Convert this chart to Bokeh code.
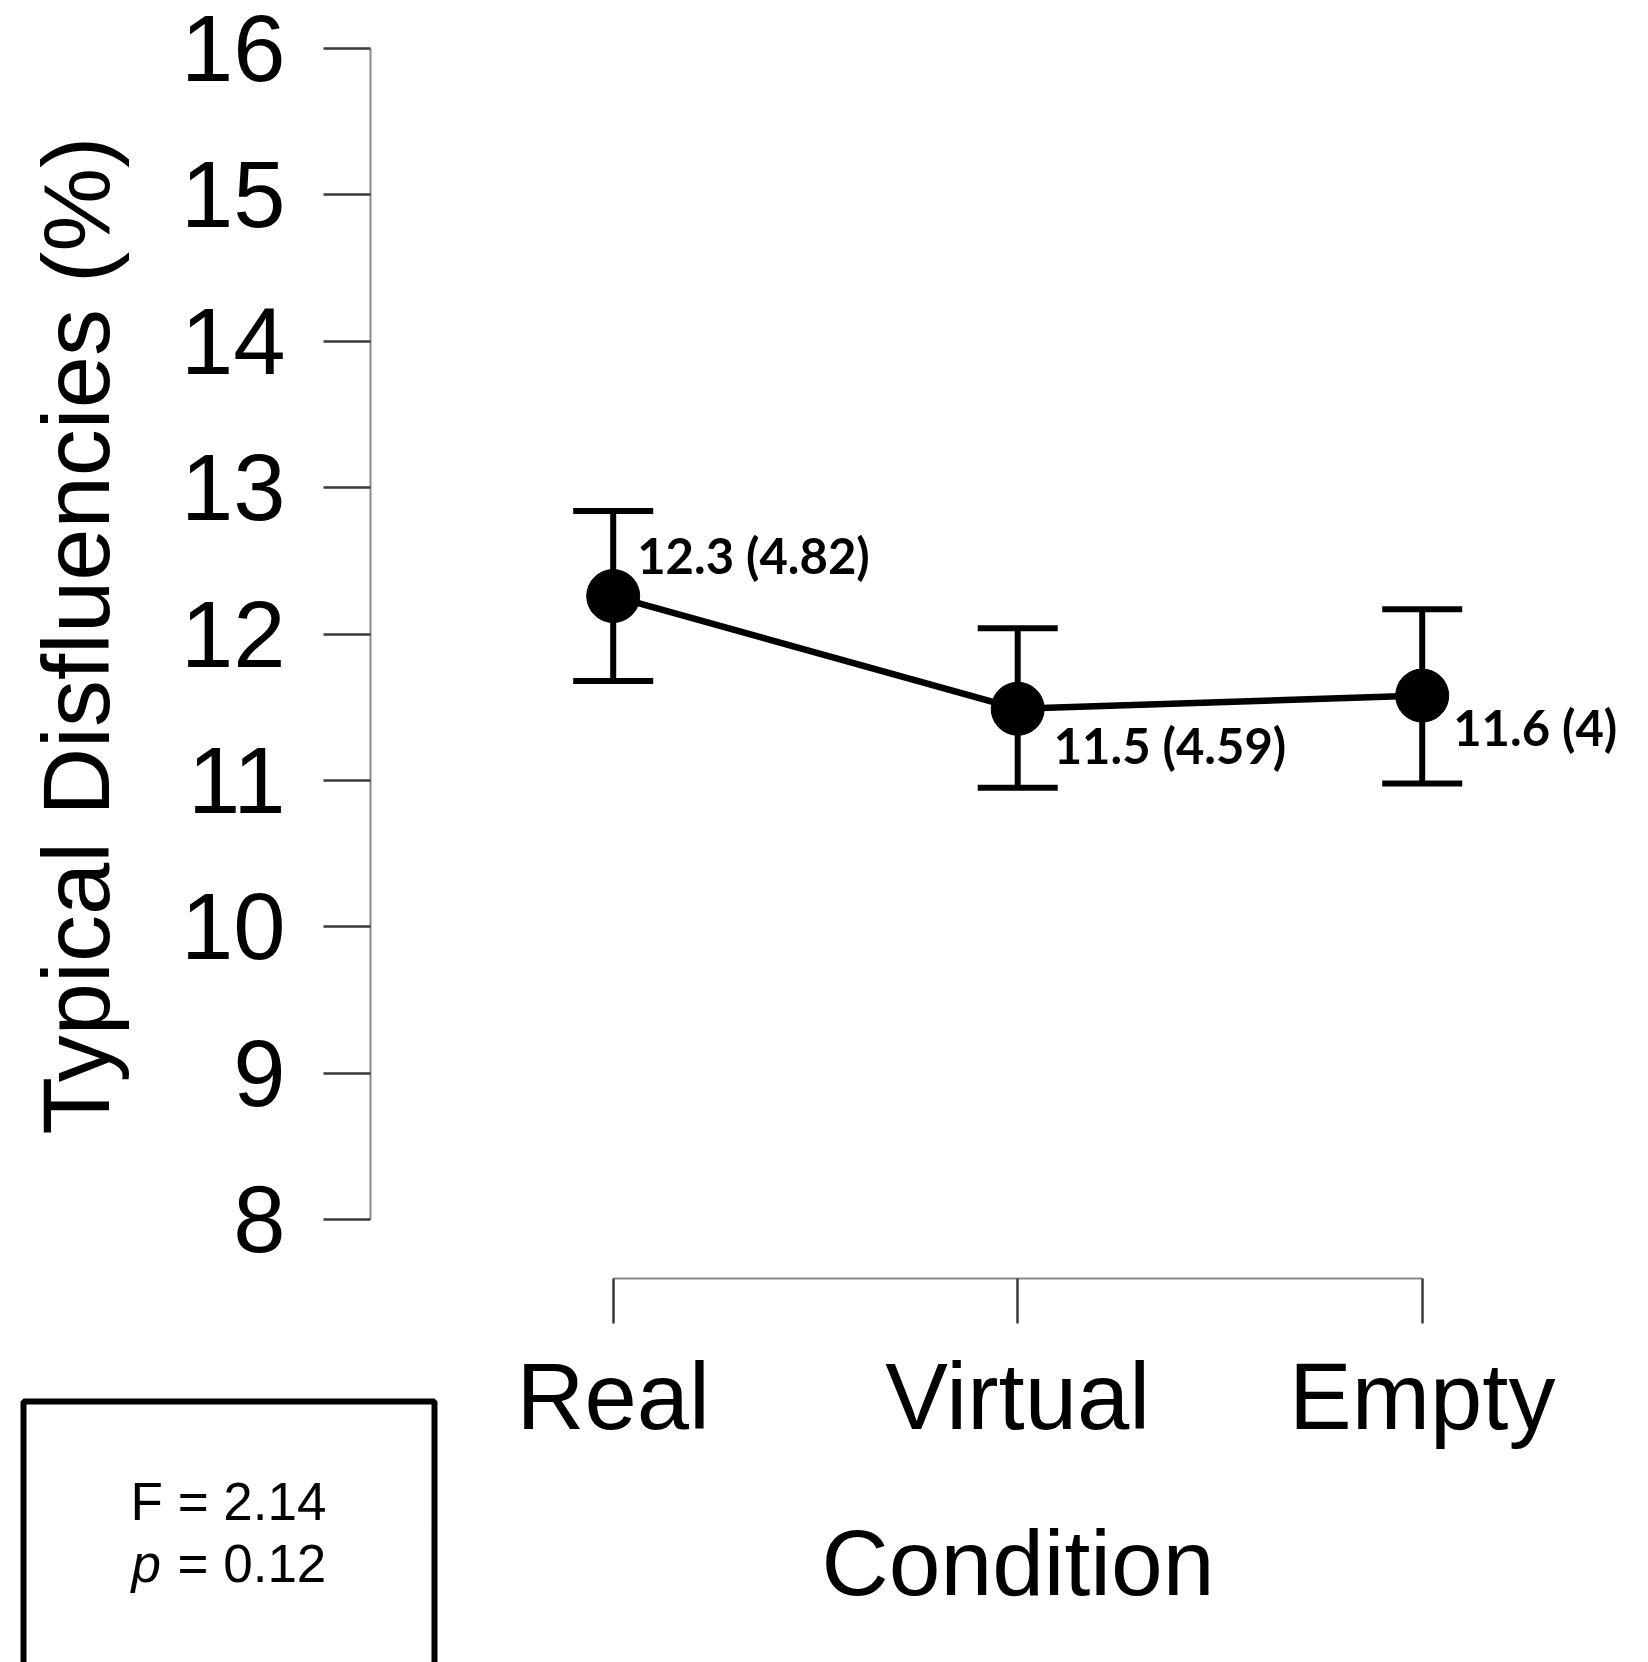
import numpy as np
from bokeh.plotting import figure
from bokeh.layouts import row, column
from bokeh.models import (Range1d, LinearAxis, FixedTicker, ColumnDataSource,
                          Whisker, TeeHead)
from bokeh.core.properties import value
from bokeh.embed import file_html
from bokeh.resources import INLINE

# ---- data -------------------------------------------------------------
conditions = ["Real", "Virtual", "Empty"]
means = [12.26, 11.49, 11.58]
upper = [12.84, 12.04, 12.17]
lower = [11.68, 10.95, 10.98]
point_labels = ["12.3 (4.82)", "11.5 (4.59)", "11.6 (4)"]
y_ticks = [8, 9, 10, 11, 12, 13, 14, 15, 16]
y_title = "Typical Disfluencies (%)"
x_title = "Condition"
stat_f = "F = 2.14"
stat_p_symbol = "p"
stat_p_rest = "= 0.12"

# ---- layout / style --------------------------------------------------
W, H = 1632, 1662
FRAME_L, FRAME_T = 370, 48      # left / top edge of the plotting frame
HA = 1277                       # bottom of plotting frame (x-axis line)
TW = 150                        # width of y-title strip
SW = 440                        # width of statistics strip
BH = 180                        # height of x-axis strip
HB = H - HA
CH = HB - BH
PX_X = 404.5                    # px per x unit
PX_Y = 146.4                    # px per y unit
X0 = 0.4
Y1 = 16.0
lab_dx = [24, 36, 31]
lab_dy = [-41, 36, 31]
FONT = "Liberation Sans"

x_pos = list(range(1, len(conditions) + 1))


def bare(width, height, xr, yr, **kw):
    f = figure(width=width, height=height, x_range=xr, y_range=yr,
               x_axis_type=None, y_axis_type=None, output_backend="svg",
               toolbar_location=None, **kw)
    f.outline_line_color = None
    f.background_fill_color = "white"
    f.border_fill_color = "white"
    return f


def style_axis(ax):
    ax.axis_line_color = "#8a8a8a"
    ax.axis_line_width = 2
    ax.major_tick_line_color = "#3a3a3a"
    ax.major_tick_line_width = 2.5
    ax.minor_tick_line_color = None
    ax.major_tick_in = 0
    ax.major_label_text_font = FONT
    ax.major_label_text_font_size = "94px"
    ax.major_label_text_color = "black"


# ---- y title strip ------------------------------------------------------
T = bare(TW, HA, Range1d(0, TW), Range1d(0, HA), min_border=0)
T.text(x=[76], y=[HA - 610], text=[y_title], angle=[np.pi / 2],
       text_align="center", text_baseline="middle",
       text_font=value(FONT), text_font_size="94px", text_color="black")

# ---- main plot ------------------------------------------------------------
A = bare(W - TW, HA,
         Range1d(X0, X0 + (W - FRAME_L) / PX_X),
         Range1d(Y1 - (HA - FRAME_T) / PX_Y, Y1),
         min_border_left=FRAME_L - TW, min_border_right=0,
         min_border_top=FRAME_T, min_border_bottom=0)
yaxis = LinearAxis(ticker=FixedTicker(ticks=y_ticks), bounds=(8, 16))
style_axis(yaxis)
yaxis.major_tick_out = 47
yaxis.major_label_standoff = 38
A.add_layout(yaxis, "left")

src = ColumnDataSource(dict(x=x_pos, mean=means, up=upper, lo=lower,
                            lab=point_labels, dx=lab_dx, dy=lab_dy))
A.line("x", "mean", source=src, line_color="black", line_width=6.5)
wh = Whisker(base="x", upper="up", lower="lo", source=src,
             line_color="black", line_width=6,
             upper_head=TeeHead(size=80, line_width=6, line_color="black"),
             lower_head=TeeHead(size=80, line_width=6, line_color="black"))
A.add_layout(wh)
A.scatter("x", "mean", source=src, size=53, color="black")
A.text("x", "mean", text="lab", source=src, x_offset="dx", y_offset="dy",
       text_font=value("Lato"), text_font_style="bold", text_font_size="49px",
       text_baseline="alphabetic", text_align="left", text_color="black")

# ---- x axis strip ---------------------------------------------------------
B = bare(W - SW, BH,
         Range1d(X0 + (SW - FRAME_L) / PX_X, X0 + (W - FRAME_L) / PX_X),
         Range1d(0, 1),
         min_border_left=0, min_border_right=0, min_border_top=0,
         min_border_bottom=BH - 1)
xaxis = LinearAxis(ticker=FixedTicker(ticks=x_pos), bounds=(1, len(conditions)),
                   major_label_overrides={x: c for x, c in zip(x_pos, conditions)})
style_axis(xaxis)
xaxis.major_tick_out = 45
xaxis.major_label_standoff = 20
B.add_layout(xaxis, "below")

# ---- x title strip -------------------------------------------------------
C = bare(W - SW, CH, Range1d(SW, W), Range1d(0, CH), min_border=0)
C.text(x=[1017.5], y=[CH - (1562 - (HA + BH))], text=[x_title],
       text_align="center", text_baseline="middle",
       text_font=value(FONT), text_font_size="93px", text_color="black")

# ---- statistics box --------------------------------------------------------
S = bare(SW, HB, Range1d(0, SW), Range1d(0, HB), min_border=0)
S.quad(left=[23], right=[434], top=[HB - (1401 - HA)], bottom=[-60],
       fill_color=None, line_color="black", line_width=6)
S.text(x=[228], y=[HB - (1501 - HA)], text=[stat_f], text_align="center",
       text_baseline="middle", text_font=value(FONT), text_font_size="53px",
       text_color="black")
S.text(x=[131], y=[HB - (1563 - HA)], text=[stat_p_symbol], text_align="left",
       text_baseline="middle", text_font=value(FONT), text_font_style="italic",
       text_font_size="53px", text_color="black")
S.text(x=[177], y=[HB - (1563 - HA)], text=[stat_p_rest], text_align="left",
       text_baseline="middle", text_font=value(FONT), text_font_size="53px",
       text_color="black")

layout = column(row(T, A), row(S, column(B, C)))

open("out.html", "w").write(file_html(layout, INLINE))
